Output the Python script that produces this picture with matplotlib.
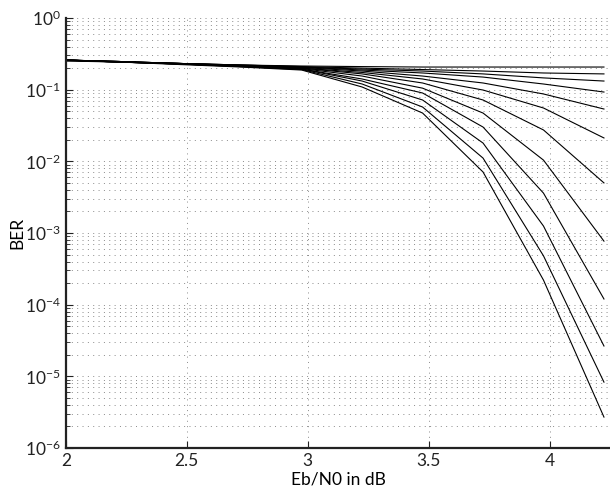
import numpy as np
import matplotlib
matplotlib.use("Agg")
from matplotlib import pyplot as plt
from matplotlib.ticker import LogLocator, NullFormatter

plt.rcParams['font.family'] = ['Lato', 'DejaVu Sans']
plt.rcParams['mathtext.fontset'] = 'custom'
plt.rcParams['mathtext.rm'] = 'Lato'

# Eb/N0 points (dB)
ebn0 = [2.0, 2.225, 2.475, 2.725, 2.975, 3.225, 3.475, 3.725, 3.975, 4.225]

# BER curves, one per decoder iteration
ber_it1 = [0.251, 0.243, 0.232, 0.221, 0.214, 0.210, 0.207, 0.207, 0.207, 0.207]
ber_it2 = [0.255, 0.243, 0.232, 0.221, 0.210, 0.200, 0.191, 0.182, 0.171, 0.166]
ber_it3 = [0.259, 0.247, 0.232, 0.221, 0.207, 0.194, 0.182, 0.166, 0.146, 0.132]
ber_it4 = [0.259, 0.247, 0.232, 0.217, 0.207, 0.188, 0.171, 0.150, 0.120, 0.0927]
ber_it5 = [0.259, 0.247, 0.232, 0.217, 0.204, 0.182, 0.155, 0.124, 0.0871, 0.0537]
ber_it6 = [0.259, 0.247, 0.232, 0.217, 0.200, 0.174, 0.141, 0.0989, 0.0555, 0.0212]
ber_it7 = [0.259, 0.247, 0.228, 0.214, 0.200, 0.166, 0.124, 0.0718, 0.0274, 0.0050]
ber_it8 = [0.259, 0.243, 0.228, 0.214, 0.197, 0.155, 0.105, 0.0472, 0.0104, 7.7e-4]
ber_it9 = [0.259, 0.243, 0.228, 0.214, 0.194, 0.141, 0.0899, 0.0301, 0.0036, 1.2e-4]
ber_it10 = [0.259, 0.243, 0.228, 0.210, 0.194, 0.132, 0.0718, 0.0180, 0.00125, 2.65e-5]
ber_it11 = [0.259, 0.243, 0.228, 0.210, 0.191, 0.120, 0.0573, 0.0111, 4.8e-4, 8.3e-6]
ber_it12 = [0.259, 0.243, 0.224, 0.207, 0.188, 0.109, 0.0472, 0.0071, 2.2e-4, 2.7e-6]

curves = [ber_it1, ber_it2, ber_it3, ber_it4, ber_it5, ber_it6,
          ber_it7, ber_it8, ber_it9, ber_it10, ber_it11, ber_it12]

xticks = [2, 2.5, 3, 3.5, 4]

fig = plt.figure(figsize=(6.10, 4.91), dpi=100)
ax = fig.add_axes([0.108, 0.0876, 0.892, 0.8757])

for ber in curves:
    ax.semilogy(ebn0, ber, color='black', linewidth=0.8)

ax.set_xlim(2, 4.25)
ax.set_ylim(1e-6, 1)
ax.set_xticks(xticks)
ax.set_xticklabels(['2', '2.5', '3', '3.5', '4'])
ax.yaxis.set_major_locator(LogLocator(base=10, numticks=10))
ax.yaxis.set_minor_locator(LogLocator(base=10, subs=np.arange(2, 10), numticks=100))
ax.yaxis.set_minor_formatter(NullFormatter())

dots = (0, (1, 4.5))
ax.grid(True, which='major', linestyle=dots, color='#8a8a8a', linewidth=0.7)
ax.grid(True, which='minor', axis='y', linestyle=dots, color='#8a8a8a', linewidth=0.7)

for side in ['top', 'right']:
    ax.spines[side].set_visible(False)
for side in ['left', 'bottom']:
    ax.spines[side].set_linewidth(1.6)
    ax.spines[side].set_color('#222222')

ax.tick_params(which='both', direction='in', labelsize=12.5, colors='#222222')
ax.tick_params(which='major', length=5)
ax.tick_params(which='minor', length=3)

ax.set_xlabel('Eb/N0 in dB', fontsize=12.5, labelpad=2)
ax.set_ylabel('BER', fontsize=12.5, labelpad=0)

fig.savefig('out.png', dpi=100)
